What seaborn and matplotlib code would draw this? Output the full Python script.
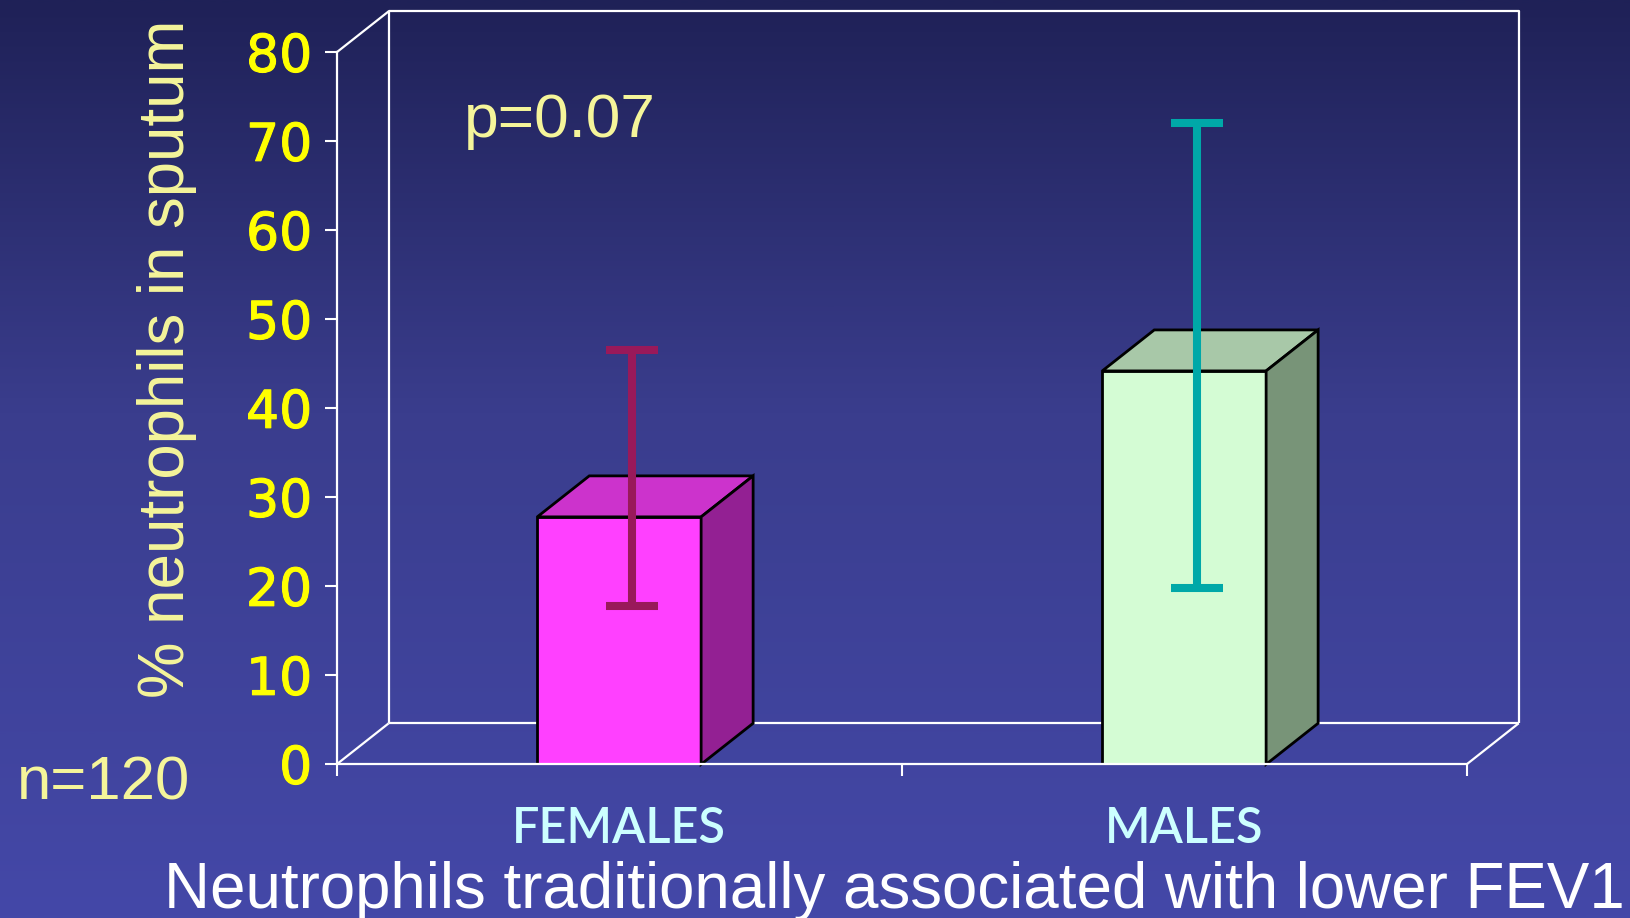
import numpy as np
import matplotlib
matplotlib.use("Agg")
import matplotlib.pyplot as plt
import matplotlib.patheffects as pe
from matplotlib.colors import LinearSegmentedColormap
from matplotlib.patches import Polygon
import seaborn as sns

# ---- data -------------------------------------------------------------
categories = ["FEMALES", "MALES"]
means = [27.8, 44.2]
err_low = [17.8, 19.8]
err_high = [46.5, 72.1]
y_ticks = [0, 10, 20, 30, 40, 50, 60, 70, 80]

# ---- colours ----------------------------------------------------------
front_colors = ["#FF40FF", "#D4FCD4"]
top_colors = ["#CC33CC", "#A8C8A8"]
side_colors = ["#932093", "#789478"]
err_colors = ["#99195A", "#00A8A8"]

W, H = 1631, 918
fig = plt.figure(figsize=(W / 100, H / 100), dpi=100)

# vertical background gradient
bg = fig.add_axes([0, 0, 1, 1], zorder=-10)
cmap = LinearSegmentedColormap.from_list(
    "bg", [(0.0, "#1F2157"), (0.45, "#3A3D8D"), (1.0, "#4448A8")])
grad = np.linspace(0, 1, 512).reshape(-1, 1)
bg.imshow(grad, cmap=cmap, aspect="auto", extent=[0, 1, 1, 0])
bg.set_axis_off()

# front plane of the 3-D box
ax_left, ax_right, ax_bottom, ax_top = 336.7, 1466.7, 764.3, 52.3
ax = fig.add_axes([ax_left / W, 1 - ax_bottom / H,
                   (ax_right - ax_left) / W, (ax_bottom - ax_top) / H])
ax.set_facecolor("none")

sns.barplot(x=categories, y=means, hue=categories, palette=front_colors,
            legend=False, width=0.29, saturation=1, errorbar=None,
            edgecolor="black", linewidth=2, ax=ax, zorder=2)

ax.set_xlim(-0.5, 1.5)
ax.set_ylim(0, 80)

# depth of the box in data units
dxd = 52.0 / ((ax_right - ax_left) / 2)
dyd = 41.0 / ((ax_bottom - ax_top) / 80)

line_kw = dict(color="white", lw=1.6, clip_on=False, zorder=0.5,
               solid_capstyle="butt")
x0, x1 = -0.5, 1.5
# back wall
ax.plot([x0 + dxd, x0 + dxd, x1 + dxd, x1 + dxd],
        [dyd, 80 + dyd, 80 + dyd, dyd], **line_kw)
ax.plot([x0 + dxd, x1 + dxd], [dyd, dyd], **line_kw)
# receding edges
ax.plot([x0, x0 + dxd], [80, 80 + dyd], **line_kw)
ax.plot([x0, x0 + dxd], [0, dyd], **line_kw)
ax.plot([x1, x1 + dxd], [0, dyd], **line_kw)

# top and side faces of each bar
for patch, tc, sc in zip(ax.patches, top_colors, side_colors):
    bx = patch.get_x()
    bw = patch.get_width()
    bh = patch.get_height()
    top = Polygon([(bx, bh), (bx + bw, bh), (bx + bw + dxd, bh + dyd),
                   (bx + dxd, bh + dyd)], closed=True, facecolor=tc,
                  edgecolor="black", lw=2, zorder=2, clip_on=False)
    side = Polygon([(bx + bw, 0), (bx + bw, bh), (bx + bw + dxd, bh + dyd),
                    (bx + bw + dxd, dyd)], closed=True, facecolor=sc,
                   edgecolor="black", lw=2, zorder=2, clip_on=False)
    ax.add_patch(top)
    ax.add_patch(side)

# error bars
for i, (m, lo, hi, c) in enumerate(zip(means, err_low, err_high, err_colors)):
    ax.errorbar(i + dxd * 0.25, m, yerr=[[m - lo], [hi - m]], fmt="none",
                ecolor=c, elinewidth=5.8, capsize=19, capthick=5.8,
                zorder=5, clip_on=False)

# spines and ticks
for s in ("top", "right"):
    ax.spines[s].set_visible(False)
for s in ("left", "bottom"):
    ax.spines[s].set_color("white")
    ax.spines[s].set_linewidth(1.6)

ax.set_yticks(y_ticks)
ax.set_yticklabels([str(t) for t in y_ticks])
ax.tick_params(axis="y", which="major", direction="out", length=8.6,
               width=1.5, color="white", labelcolor="#FFFF00",
               labelsize=37.5, pad=9)
for lab in ax.get_yticklabels():
    lab.set_fontfamily("DejaVu Sans")
    lab.set_path_effects([pe.withStroke(linewidth=0.8, foreground="#FFFF00")])

ax.set_xticks([0, 1])
ax.set_xticklabels(categories)
ax.set_xticks([-0.5, 0.5, 1.5], minor=True)
ax.tick_params(axis="x", which="major", length=0, labelcolor="#CCFFFF",
               labelsize=35, pad=30)
ax.tick_params(axis="x", which="minor", direction="out", length=8.6,
               width=1.5, color="white")
for lab in ax.get_xticklabels():
    lab.set_fontfamily("Lato")
    lab.set_fontweight("semibold")
ax.set_xlabel("")
ax.set_ylabel("")

# slide text
txt_kw = dict(family="Liberation Sans", transform=fig.transFigure)
fig.text(166.7 / W, 1 - 358.5 / H, "% neutrophils in sputum", rotation=90,
         ha="center", va="center", fontsize=45.8, color="#F5F59A", **txt_kw)
fig.text(464.3 / W, 1 - 136.7 / H, "p=0.07", ha="left", va="baseline",
         fontsize=44.8, color="#F5F59A", **txt_kw)
fig.text(16.7 / W, 1 - 799.3 / H, "n=120", ha="left", va="baseline",
         fontsize=44.4, color="#F5F59A", **txt_kw)
fig.text(164 / W, 1 - 908 / H,
         "Neutrophils traditionally associated with lower FEV1",
         ha="left", va="baseline", fontsize=45.8, color="white", **txt_kw)

fig.savefig("out.png", dpi=100)
